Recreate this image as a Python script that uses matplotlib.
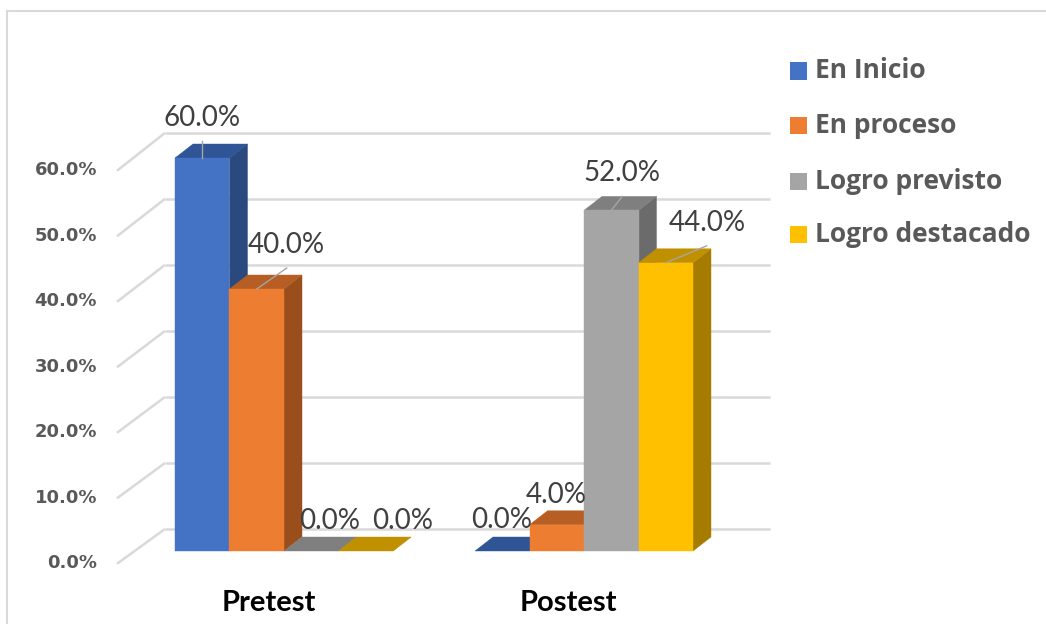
import matplotlib.pyplot as plt
from matplotlib.patches import Polygon, Rectangle

# data
categories = ['Pretest', 'Postest']
series = ['En Inicio', 'En proceso', 'Logro previsto', 'Logro destacado']
values = [[60.0, 40.0, 0.0, 0.0],
          [0.0, 4.0, 52.0, 44.0]]
yticks = [0, 10, 20, 30, 40, 50, 60]

# colours: front, top, side
front = ['#4472C4', '#ED7D31', '#A5A5A5', '#FFC000']
top = ['#2F5597', '#B65E23', '#7F7F7F', '#C09000']
side = ['#2A4A7F', '#9A4E1C', '#6B6B6B', '#A57C00']

W, H = 1046, 624
PXX, PXY = 54.5, 6.55      # pixels per bar unit / per percent
X0, Y0 = 175, 551          # pixel of x=0, y=0
dx, dy = 18 / PXX, 14 / PXY
group_step = 300 / PXX

# label offsets in pixels (dx, dy) from the bar top centre
lab_off = [[(0, -40), (30, -44), (18, -30), (37, -30)],
           [(-1, -31), (-1, -30), (11, -37), (41, -40)]]

fig = plt.figure(figsize=(W / 100, H / 100), dpi=100)
ax = fig.add_axes([0, 0, 1, 1])
ax.set_xlim(-X0 / PXX, (W - X0) / PXX)
ax.set_ylim((Y0 - H) / PXY, Y0 / PXY)
ax.axis('off')

grid_c = '#D9D9D9'
wall_x0, wall_x1 = -10 / PXX, (770 - X0) / PXX
side_x = -58 / PXX
for v in yticks:
    wy = v * 1.008 + 22 / PXY
    fy = v - 1.95
    ax.plot([wall_x0, wall_x1], [wy, wy], color=grid_c, lw=1.8, zorder=1,
            solid_capstyle='butt')
    ax.plot([side_x, wall_x0], [fy, wy], color=grid_c, lw=1.8, zorder=1,
            solid_capstyle='butt')
    ax.text(-78 / PXX, v - 1.85, '%.1f%%' % v, ha='right', va='center',
            fontsize=13, fontweight='bold', color='#595959',
            family='DejaVu Sans')

z = 2
for g, vals in enumerate(values):
    for i, v in enumerate(vals):
        x0 = g * group_step + i
        x1 = x0 + 1
        ax.add_patch(Polygon([(x1, 0), (x1, v), (x1 + dx, v + dy), (x1 + dx, dy)],
                             closed=True, fc=side[i], ec=side[i], lw=0.3, zorder=z))
        ax.add_patch(Polygon([(x0, v), (x1, v), (x1 + dx, v + dy), (x0 + dx, v + dy)],
                             closed=True, fc=top[i], ec=top[i], lw=0.3, zorder=z + 1))
        if v > 0:
            ax.add_patch(Rectangle((x0, 0), 1, v, fc=front[i], ec=front[i],
                                   lw=0.3, zorder=z + 2))
        z += 3
        ox, oy = lab_off[g][i]
        lx = x0 + 0.5 + ox / PXX
        ly = v - oy / PXY
        ax.text(lx, ly, '%.1f%%' % v, ha='center', va='center', fontsize=20,
                color='#404040', family='Lato', zorder=100)
        if v >= 10:
            ax.plot([x0 + 0.5, lx], [v, ly - 23 / PXY], color='#A6A6A6', lw=1,
                    zorder=99)

for g, c in enumerate(categories):
    ax.text(g * group_step + 2 - 0.28, -52 / PXY, c, ha='center', va='center',
            fontsize=21, fontweight='bold', color='black', family='Lato')

# legend
rows = [71, 126, 181, 235]
for i, s in enumerate(series):
    yc = 1 - rows[i] / H
    fig.patches.append(Rectangle((790 / W, yc - 8.5 / H), 17 / W, 17 / H,
                                 transform=fig.transFigure, fc=front[i], ec='none'))
    fig.text(815 / W, yc, s, ha='left', va='center', fontsize=19,
             fontweight='bold', color='#595959', family='Open Sans')

# chart frame
fig.patches.append(Rectangle((7 / W, -0.1), 2, 1.1 - 11 / H, transform=fig.transFigure,
                             fc='none', ec='#D9D9D9', lw=1.5))

fig.savefig('out.png', dpi=100)
